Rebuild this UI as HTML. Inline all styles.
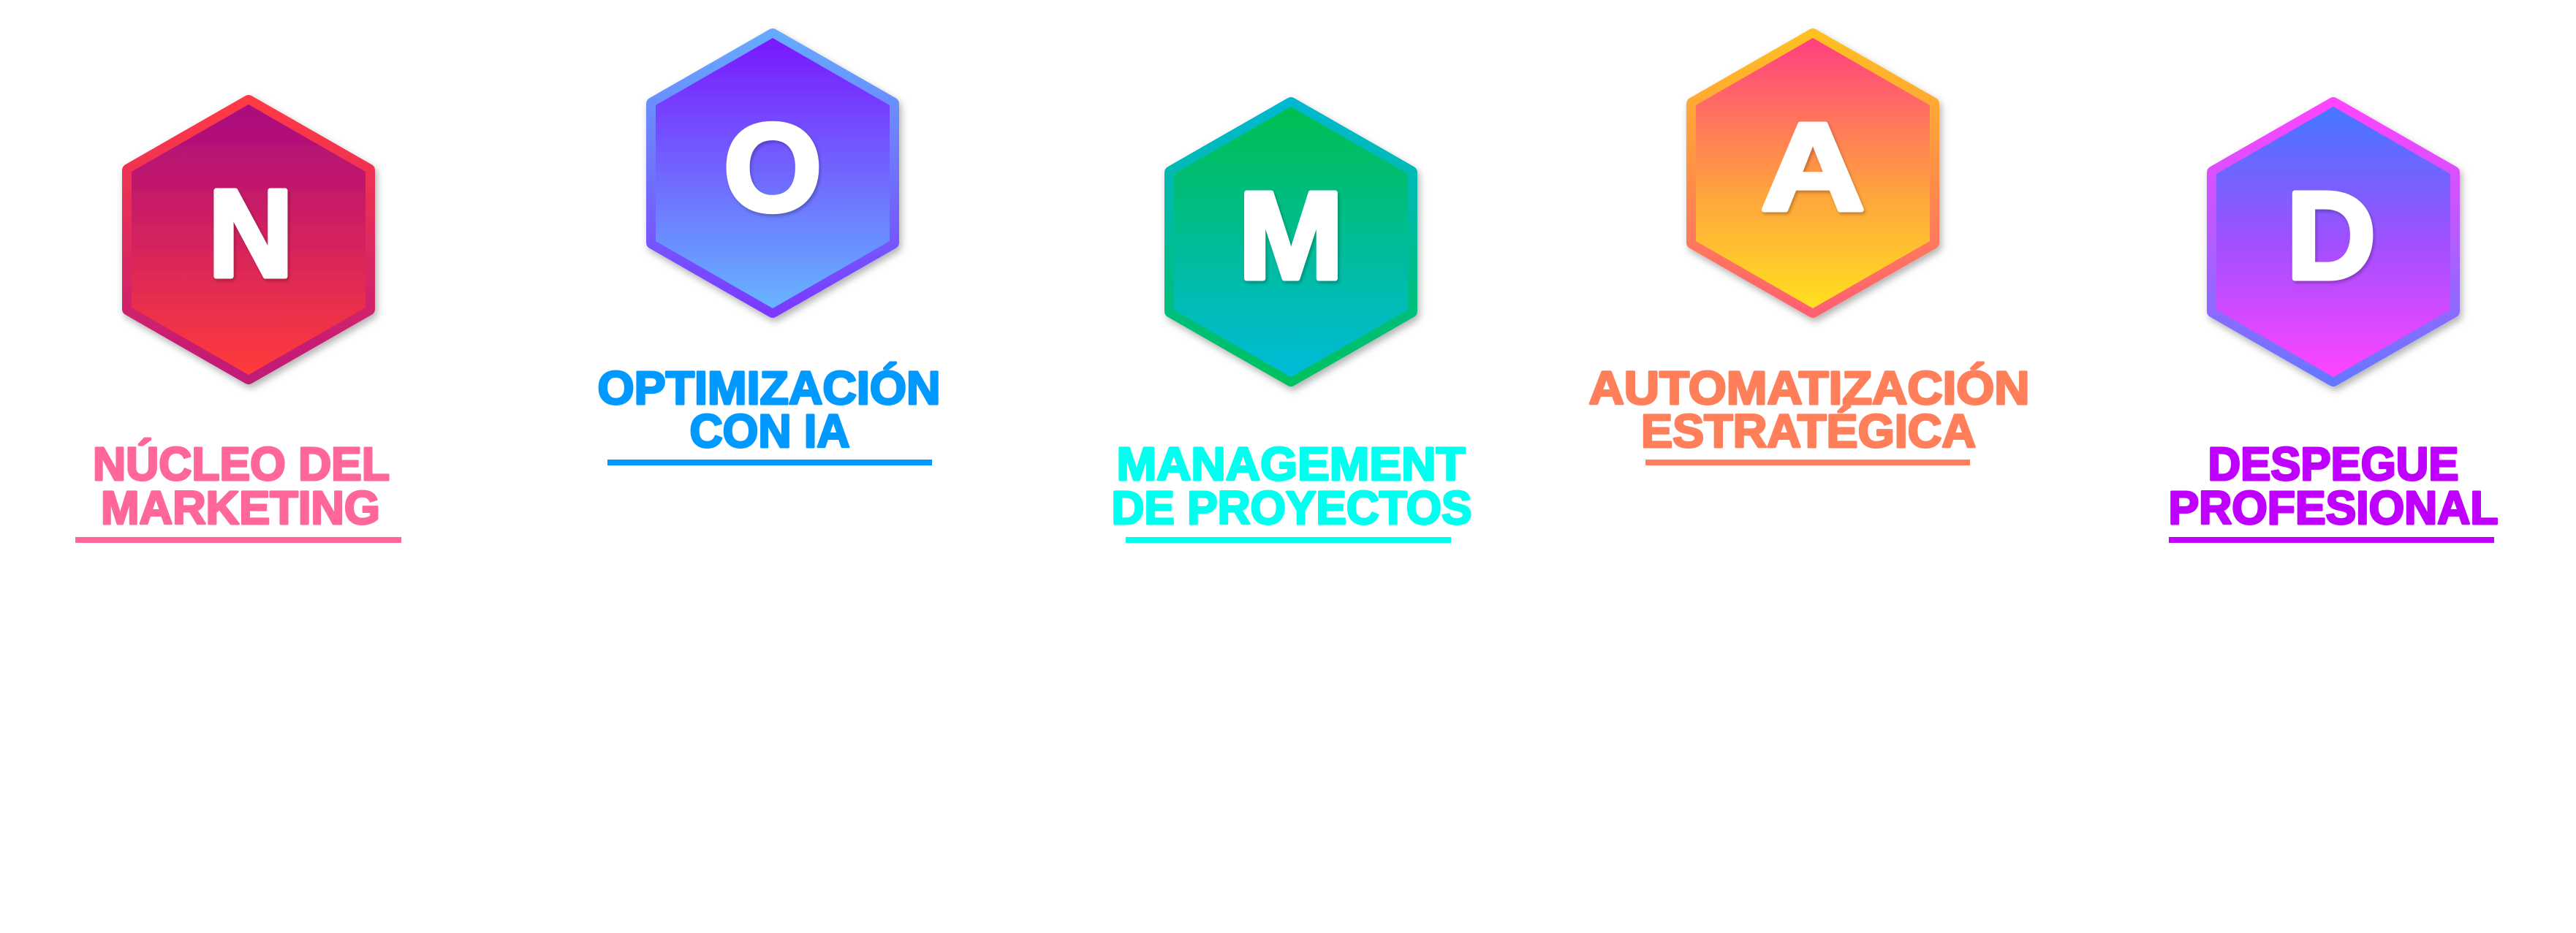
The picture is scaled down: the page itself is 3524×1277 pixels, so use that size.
<!DOCTYPE html>
<html><head><meta charset="utf-8"><style>
html,body{margin:0;padding:0;background:#fff;width:3524px;height:1277px;overflow:hidden}
svg{display:block}
.lt{font-family:"Liberation Sans",sans-serif;font-weight:bold;font-size:170px;fill:#fff;stroke:#fff;stroke-width:7;stroke-linejoin:round;text-anchor:middle}
.lb{font-family:"Liberation Sans",sans-serif;font-weight:bold;font-size:64px;text-anchor:middle;stroke-width:3;stroke-linejoin:round}
</style></head><body>
<svg width="3524" height="1277" viewBox="0 0 3524 1277" xmlns="http://www.w3.org/2000/svg">
<defs>
<filter id="sh" x="-20%" y="-20%" width="140%" height="140%"><feDropShadow dx="3" dy="5" stdDeviation="5" flood-color="#000" flood-opacity="0.3"/></filter>
<filter id="ts" x="-20%" y="-20%" width="140%" height="140%"><feDropShadow dx="2" dy="3" stdDeviation="2" flood-color="#000" flood-opacity="0.25"/></filter>
<linearGradient id="fN" x1="0" y1="0" x2="0" y2="1"><stop offset="0" stop-color="#A80A80"/><stop offset="1" stop-color="#FF3B3B"/></linearGradient>
<linearGradient id="bN" x1="0" y1="0" x2="0" y2="1"><stop offset="0" stop-color="#FF3A45"/><stop offset="1" stop-color="#C01A78"/></linearGradient>
<linearGradient id="fO" x1="0" y1="0" x2="0" y2="1"><stop offset="0" stop-color="#7A18FF"/><stop offset="1" stop-color="#66B5FF"/></linearGradient>
<linearGradient id="bO" x1="0" y1="0" x2="0" y2="1"><stop offset="0" stop-color="#66AAFF"/><stop offset="1" stop-color="#7A3AFF"/></linearGradient>
<linearGradient id="fM" x1="0" y1="0" x2="0" y2="1"><stop offset="0" stop-color="#00BE50"/><stop offset="1" stop-color="#00BBDA"/></linearGradient>
<linearGradient id="bM" x1="0" y1="0" x2="0" y2="1"><stop offset="0" stop-color="#00B8D0"/><stop offset="1" stop-color="#00C060"/></linearGradient>
<linearGradient id="fA" x1="0" y1="0" x2="0" y2="1"><stop offset="0" stop-color="#FF3F80"/><stop offset="0.55" stop-color="#FFA040"/><stop offset="1" stop-color="#FFE020"/></linearGradient>
<linearGradient id="bA" x1="0" y1="0" x2="0" y2="1"><stop offset="0" stop-color="#FFC020"/><stop offset="1" stop-color="#FF6070"/></linearGradient>
<linearGradient id="fD" x1="0" y1="0" x2="0" y2="1"><stop offset="0" stop-color="#4477FF"/><stop offset="0.5" stop-color="#A050FF"/><stop offset="1" stop-color="#FF44FF"/></linearGradient>
<linearGradient id="bD" x1="0" y1="0" x2="0" y2="1"><stop offset="0" stop-color="#FF44FF"/><stop offset="1" stop-color="#6677FF"/></linearGradient>
</defs>

<g transform="translate(340,328)" filter="url(#sh)"><polygon points="0,-189 164,-95 164,95 0,189 -164,95 -164,-95" fill="url(#fN)" stroke="url(#bN)" stroke-width="18" stroke-linejoin="round"/><polygon points="0,-185 160,-93 160,93 0,185 -160,93 -160,-93" fill="url(#fN)"/></g>
<g transform="translate(1057,237)" filter="url(#sh)"><polygon points="0,-189 164,-95 164,95 0,189 -164,95 -164,-95" fill="url(#fO)" stroke="url(#bO)" stroke-width="18" stroke-linejoin="round"/><polygon points="0,-185 160,-93 160,93 0,185 -160,93 -160,-93" fill="url(#fO)"/></g>
<g transform="translate(1766,331)" filter="url(#sh)"><polygon points="0,-189 164,-95 164,95 0,189 -164,95 -164,-95" fill="url(#fM)" stroke="url(#bM)" stroke-width="18" stroke-linejoin="round"/><polygon points="0,-185 160,-93 160,93 0,185 -160,93 -160,-93" fill="url(#fM)"/></g>
<g transform="translate(2480,237)" filter="url(#sh)"><polygon points="0,-189 164,-95 164,95 0,189 -164,95 -164,-95" fill="url(#fA)" stroke="url(#bA)" stroke-width="18" stroke-linejoin="round"/><polygon points="0,-185 160,-93 160,93 0,185 -160,93 -160,-93" fill="url(#fA)"/></g>
<g transform="translate(3192,331)" filter="url(#sh)"><polygon points="0,-189 164,-95 164,95 0,189 -164,95 -164,-95" fill="url(#fD)" stroke="url(#bD)" stroke-width="18" stroke-linejoin="round"/><polygon points="0,-185 160,-93 160,93 0,185 -160,93 -160,-93" fill="url(#fD)"/></g>

<g filter="url(#ts)">
<text class="lt" x="343" y="378" textLength="116" lengthAdjust="spacingAndGlyphs">N</text>
<text class="lt" x="1057" y="288" textLength="134" lengthAdjust="spacingAndGlyphs">O</text>
<text class="lt" x="1766" y="381" textLength="144" lengthAdjust="spacingAndGlyphs">M</text>
<text class="lt" x="2480" y="287" textLength="142" lengthAdjust="spacingAndGlyphs">A</text>
<text class="lt" x="3189" y="381" textLength="122" lengthAdjust="spacingAndGlyphs">D</text>
</g>

<text class="lb" fill="#FF6699" stroke="#FF6699" x="330" y="657" textLength="406" lengthAdjust="spacingAndGlyphs">NÚCLEO DEL</text>
<text class="lb" fill="#FF6699" stroke="#FF6699" x="329" y="717" textLength="382" lengthAdjust="spacingAndGlyphs">MARKETING</text>
<rect x="103" y="735" width="446" height="8" fill="#FF6699"/>

<text class="lb" fill="#0099FF" stroke="#0099FF" x="1052" y="553" textLength="469" lengthAdjust="spacingAndGlyphs">OPTIMIZACIÓN</text>
<text class="lb" fill="#0099FF" stroke="#0099FF" x="1053" y="612" textLength="219" lengthAdjust="spacingAndGlyphs">CON IA</text>
<rect x="831" y="629" width="444" height="8" fill="#0099FF"/>

<text class="lb" fill="#00FFEE" stroke="#00FFEE" x="1766" y="657" textLength="477" lengthAdjust="spacingAndGlyphs">MANAGEMENT</text>
<text class="lb" fill="#00FFEE" stroke="#00FFEE" x="1767" y="717" textLength="493" lengthAdjust="spacingAndGlyphs">DE PROYECTOS</text>
<rect x="1540" y="735" width="445" height="8" fill="#00FFEE"/>

<text class="lb" fill="#FF7F5A" stroke="#FF7F5A" x="2475" y="553" textLength="603" lengthAdjust="spacingAndGlyphs">AUTOMATIZACIÓN</text>
<text class="lb" fill="#FF7F5A" stroke="#FF7F5A" x="2474" y="612" textLength="458" lengthAdjust="spacingAndGlyphs">ESTRATÉGICA</text>
<rect x="2251" y="629" width="444" height="8" fill="#FF7F5A"/>

<text class="lb" fill="#C000FF" stroke="#C000FF" x="3192" y="657" textLength="343" lengthAdjust="spacingAndGlyphs">DESPEGUE</text>
<text class="lb" fill="#C000FF" stroke="#C000FF" x="3192" y="717" textLength="451" lengthAdjust="spacingAndGlyphs">PROFESIONAL</text>
<rect x="2967" y="735" width="445" height="8" fill="#C000FF"/>
</svg>
</body></html>
